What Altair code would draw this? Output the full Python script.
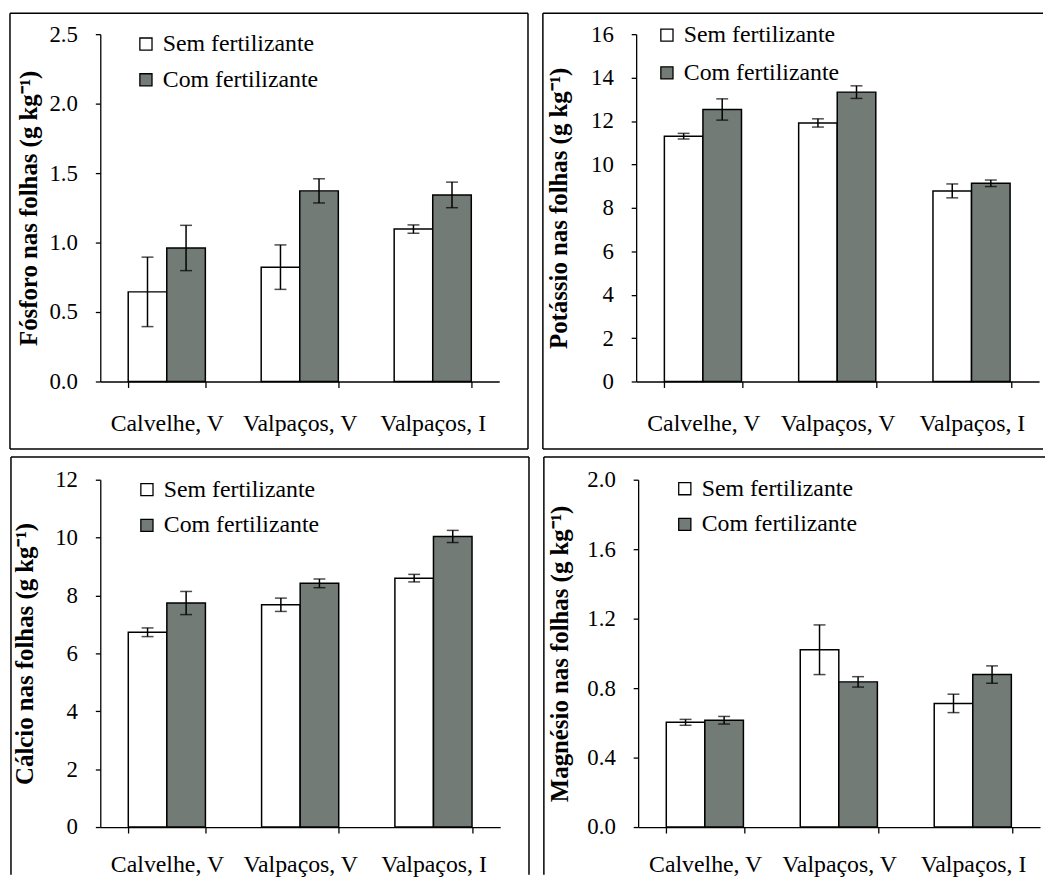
import altair as alt
import pandas as pd

sites = ["Calvelhe, V", "Valpaços, V", "Valpaços, I"]
treatments = ["Sem fertilizante", "Com fertilizante"]

# Fósforo
p_sem = [0.645, 0.823, 1.097]
p_sem_err = [0.25, 0.16, 0.03]
p_com = [0.961, 1.372, 1.343]
p_com_err = [0.163, 0.087, 0.092]
# Potássio
k_sem = [11.30, 11.91, 8.78]
k_sem_err = [0.13, 0.19, 0.32]
k_com = [12.53, 13.33, 9.13]
k_com_err = [0.49, 0.29, 0.15]
# Cálcio
ca_sem = [6.73, 7.68, 8.60]
ca_sem_err = [0.15, 0.23, 0.13]
ca_com = [7.74, 8.42, 10.04]
ca_com_err = [0.40, 0.15, 0.21]
# Magnésio
mg_sem = [0.603, 1.021, 0.712]
mg_sem_err = [0.017, 0.143, 0.053]
mg_com = [0.615, 0.836, 0.878]
mg_com_err = [0.022, 0.030, 0.050]

GRAY = "#737b77"
FONT = "Times New Roman"


def frame_layers(sides):
    d = alt.Chart(pd.DataFrame({"d": [0]}))
    out = []
    for s in sides:
        kind, a, b, c = s
        if kind == "h":
            out.append(d.mark_rule(color="black", strokeWidth=1.5).encode(
                x=alt.value(a), x2=alt.value(b), y=alt.value(c)))
        else:
            out.append(d.mark_rule(color="black", strokeWidth=1.5).encode(
                x=alt.value(c), y=alt.value(a), y2=alt.value(b)))
    return out


def panel(sem, sem_err, com, com_err, title, ymax, ticks, fmt, width,
          lx, ly, rowpad, tpad, xpad, sides):
    df = pd.DataFrame({
        "Local": sites * 2,
        "Tratamento": [treatments[0]] * 3 + [treatments[1]] * 3,
        "valor": sem + com,
        "erro": sem_err + com_err,
    })
    df["lo"] = df["valor"] - df["erro"]
    df["hi"] = df["valor"] + df["erro"]

    base = alt.Chart(df).encode(
        x=alt.X("Local:N", sort=sites, title=None,
                scale=alt.Scale(paddingInner=0.42, paddingOuter=0.21),
                axis=alt.Axis(labelAngle=0, tickBand="extent", tickSize=6,
                              labelPadding=xpad, labelFontSize=24,
                              labelFont=FONT,
                              domainWidth=1.3, tickWidth=1.3)),
        xOffset=alt.XOffset("Tratamento:N", sort=treatments,
                            scale=alt.Scale(paddingInner=0, paddingOuter=0)),
    )
    bars = base.mark_bar(stroke="black", strokeWidth=1.5).encode(
        y=alt.Y("valor:Q", scale=alt.Scale(domain=[0, ymax], nice=False),
                axis=alt.Axis(values=ticks, format=fmt, title=title,
                              tickSize=5, labelPadding=18, labelFontSize=23,
                              labelFont=FONT, titleFont=FONT,
                              titlePadding=tpad, titleFontSize=25,
                              titleFontWeight="bold",
                              domainWidth=1.3, tickWidth=1.3)),
        color=alt.Color("Tratamento:N", sort=treatments, title=None,
                        scale=alt.Scale(domain=treatments, range=["white", GRAY]),
                        legend=alt.Legend(orient="none", legendX=lx, legendY=ly,
                                          symbolType="square", symbolSize=150,
                                          symbolStrokeColor="black",
                                          symbolStrokeWidth=1.3,
                                          labelFont=FONT, labelFontSize=24,
                                          labelColor="black", labelOffset=5,
                                          rowPadding=rowpad, padding=0)),
    )
    rules = base.mark_rule(color="black", strokeWidth=1.5).encode(
        y="lo:Q", y2="hi:Q")
    cap_lo = base.mark_tick(color="black", size=12, thickness=1.5).encode(y="lo:Q")
    cap_hi = base.mark_tick(color="black", size=12, thickness=1.5).encode(y="hi:Q")
    layers = [bars, rules, cap_lo, cap_hi] + frame_layers(sides)
    return alt.layer(*layers).properties(width=width, height=350)


p1 = panel(p_sem, p_sem_err, p_com, p_com_err, "Fósforo nas folhas (g kg⁻¹)",
           2.5, [0, 0.5, 1.0, 1.5, 2.0, 2.5], ".1f", 402, 34, -2, 12, 8, 24,
           [("h", -91, 431, -21), ("h", -91, 431, 418),
            ("v", -21, 418, -91), ("v", -21, 418, 431)])
p2 = panel(k_sem, k_sem_err, k_com, k_com_err, "Potássio nas folhas (g kg⁻¹)",
           16, list(range(0, 17, 2)), "d", 406, 19, -11, 14, 19, 24,
           [("h", -94, 410, -21), ("h", -94, 410, 418),
            ("v", -21, 418, -94)])
p3 = panel(ca_sem, ca_sem_err, ca_com, ca_com_err, "Cálcio nas folhas (g kg⁻¹)",
           12, list(range(0, 13, 2)), "d", 403, 35, -2, 12, 17, 20,
           [("h", -90, 432, -23), ("v", -23, 398, -90), ("v", -23, 398, 432)])
p4 = panel(mg_sem, mg_sem_err, mg_com, mg_com_err, "Magnésio nas folhas (g kg⁻¹)",
           2.0, [0, 0.4, 0.8, 1.2, 1.6, 2.0], ".1f", 405, 35, -3, 12, 14, 20,
           [("h", -95, 410, -23), ("v", -23, 398, -95)])

row1 = alt.hconcat(p1, p2, spacing=11).resolve_scale(color="independent").resolve_legend(color="independent")
row2 = alt.hconcat(p3, p4, spacing=11).resolve_scale(color="independent").resolve_legend(color="independent")

chart = alt.vconcat(row1, row2, spacing=4).resolve_scale(
    color="independent").resolve_legend(color="independent").properties(
    padding={"left": 0, "top": 0, "right": 0, "bottom": 0},
    background="white",
).configure_view(stroke="transparent").configure_axis(
    labelColor="black", titleColor="black",
    domainColor="black", tickColor="black", grid=False,
).configure_legend(labelFont=FONT)

chart.save("out.html", embed_options={"renderer": "svg", "actions": False})
